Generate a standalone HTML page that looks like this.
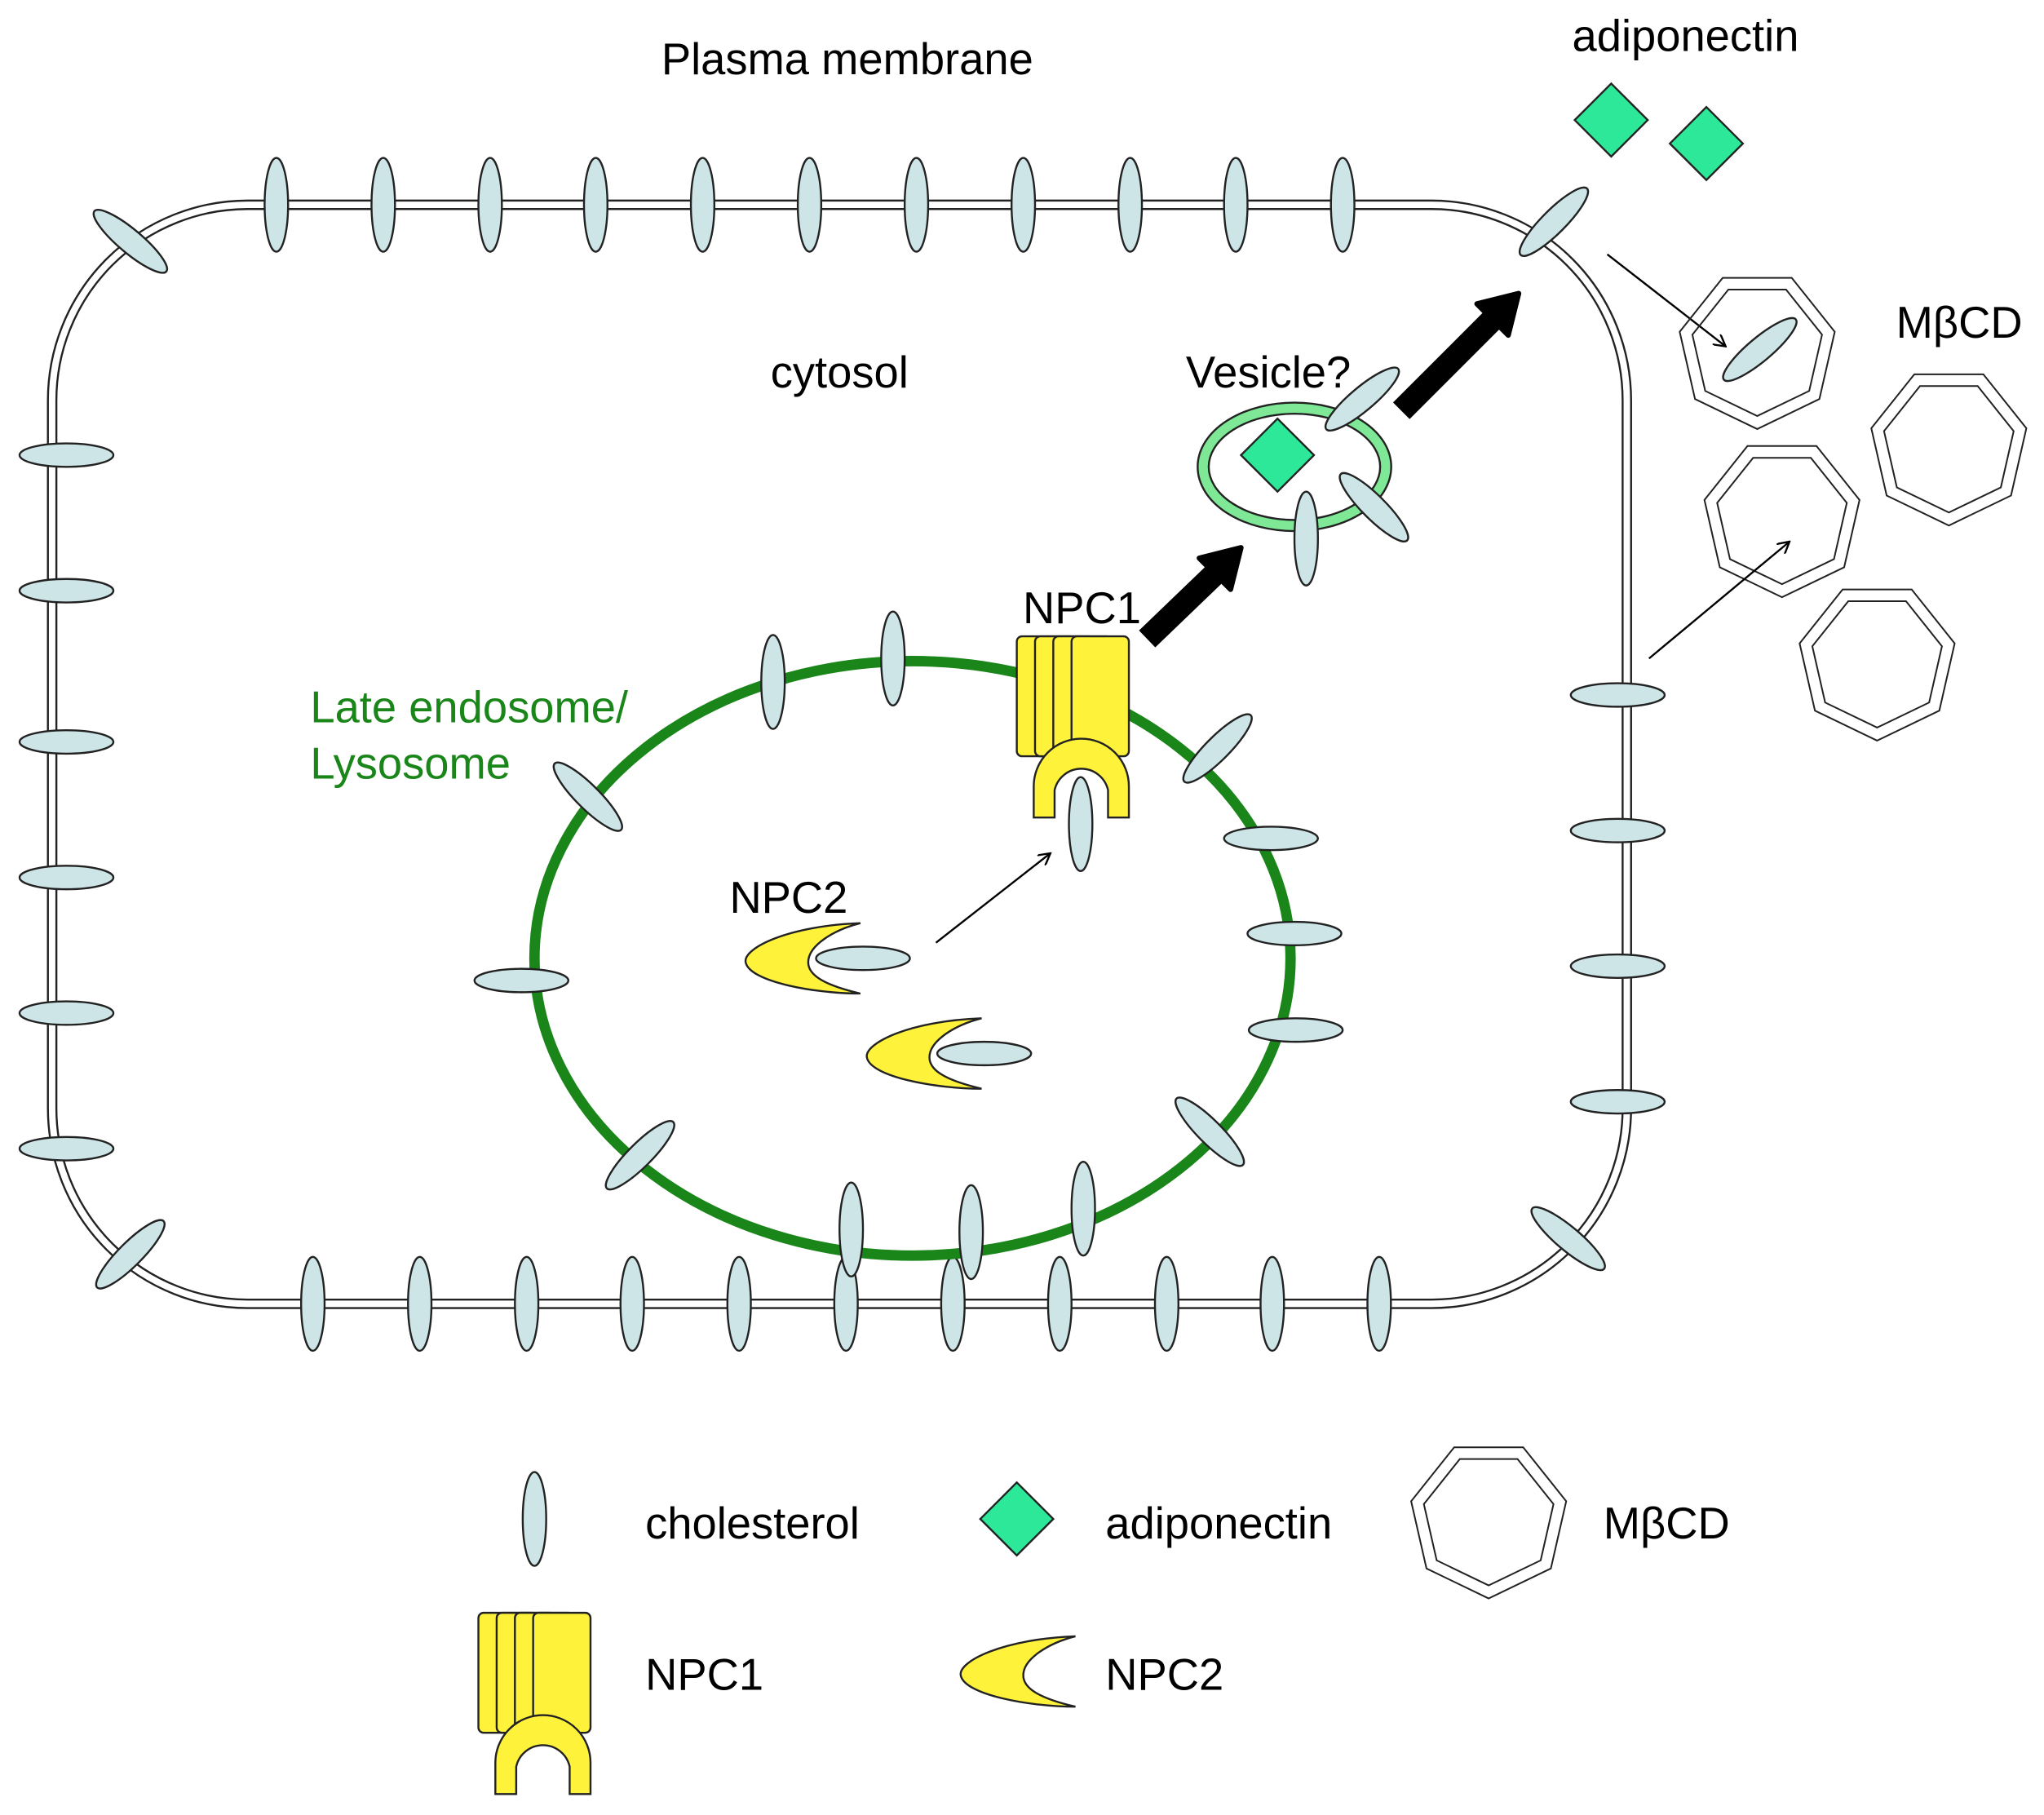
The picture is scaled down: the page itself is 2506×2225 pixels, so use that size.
<!DOCTYPE html>
<html><head><meta charset="utf-8"><style>
html,body{margin:0;padding:0;background:#fff}
svg{display:block}
text{font-family:"Liberation Sans",sans-serif;font-size:34px;fill:#000}
</style></head><body>
<svg width="2506" height="2225" viewBox="0 0 1568 1392" xmlns="http://www.w3.org/2000/svg">
<defs>
<ellipse id="cv" cx="0" cy="0" rx="9" ry="36" fill="#cde5e7" stroke="#222" stroke-width="1.5"/>
<polygon id="hep" points="0,1 -0.782,0.623 -0.975,-0.223 -0.434,-0.901 0.434,-0.901 0.975,-0.223 0.782,0.623" fill="none" stroke="#222" stroke-width="2" vector-effect="non-scaling-stroke"/>
<g id="mcd"><use href="#hep" transform="scale(61)"/><use href="#hep" transform="scale(51)"/></g>
<path id="dia" d="M0,-28 L28,0 L0,28 L-28,0 Z" fill="#2ee89a" stroke="#222" stroke-width="1.5"/>
<path id="cres" d="M45,-27 C-10,-25 -45,-8 -43,3 C-40,18 10,27 45,27 C15,20 5,12 5,3 C5,-10 25,-22 45,-27 Z" fill="#fff23a" stroke="#222" stroke-width="1.5"/>
<g id="npc1">
<rect x="0" y="0" width="45" height="92" rx="4" fill="#fff23a" stroke="#222" stroke-width="1.5"/>
<rect x="14" y="0" width="45" height="92" rx="4" fill="#fff23a" stroke="#222" stroke-width="1.5"/>
<rect x="28" y="0" width="45" height="92" rx="4" fill="#fff23a" stroke="#222" stroke-width="1.5"/>
<rect x="42" y="0" width="44" height="92" rx="4" fill="#fff23a" stroke="#222" stroke-width="1.5"/>
<path d="M13,139 L13,115 A36,36 0 0 1 86,115 L86,139 L70,139 L70,118 A21,21 0 0 0 29,118 L29,139 Z" fill="#fff23a" stroke="#222" stroke-width="1.5"/>
</g>
<marker id="ah" markerWidth="10" markerHeight="10" refX="8" refY="5" orient="auto" markerUnits="userSpaceOnUse"><path d="M0,0 L9,5 L0,10" fill="none" stroke="#000" stroke-width="1.5"/></marker>
</defs>

<rect x="40" y="157" width="1208" height="843" rx="150" fill="none" stroke="#222" stroke-width="8"/>
<rect x="40" y="157" width="1208" height="843" rx="150" fill="none" stroke="#fff" stroke-width="5"/>

<g>
<use href="#cv" x="212" y="157"/><use href="#cv" x="294" y="157"/><use href="#cv" x="376" y="157"/><use href="#cv" x="457" y="157"/><use href="#cv" x="539" y="157"/><use href="#cv" x="621" y="157"/><use href="#cv" x="703" y="157"/><use href="#cv" x="785" y="157"/><use href="#cv" x="867" y="157"/><use href="#cv" x="948" y="157"/><use href="#cv" x="1030" y="157"/>
<use href="#cv" x="240" y="1000"/><use href="#cv" x="322" y="1000"/><use href="#cv" x="404" y="1000"/><use href="#cv" x="485" y="1000"/><use href="#cv" x="567" y="1000"/><use href="#cv" x="649" y="1000"/><use href="#cv" x="731" y="1000"/><use href="#cv" x="813" y="1000"/><use href="#cv" x="895" y="1000"/><use href="#cv" x="976" y="1000"/><use href="#cv" x="1058" y="1000"/>
<use href="#cv" transform="translate(51,349) rotate(90)"/><use href="#cv" transform="translate(51,453) rotate(90)"/><use href="#cv" transform="translate(51,569) rotate(90)"/><use href="#cv" transform="translate(51,673) rotate(90)"/><use href="#cv" transform="translate(51,777) rotate(90)"/><use href="#cv" transform="translate(51,881) rotate(90)"/>
<use href="#cv" transform="translate(1241,533) rotate(90)"/><use href="#cv" transform="translate(1241,637) rotate(90)"/><use href="#cv" transform="translate(1241,741) rotate(90)"/><use href="#cv" transform="translate(1241,845) rotate(90)"/>
<use href="#cv" transform="translate(100,185) rotate(-50)"/><use href="#cv" transform="translate(100,962) rotate(45)"/><use href="#cv" transform="translate(1192,170) rotate(45)"/><use href="#cv" transform="translate(1203,950) rotate(-50)"/>
</g>

<ellipse cx="700" cy="735" rx="290" ry="228" fill="none" stroke="#1a861a" stroke-width="8"/>
<use href="#cv" x="593" y="523"/><use href="#cv" x="685" y="505"/>
<use href="#cv" transform="translate(451,611) rotate(-45)"/>
<use href="#cv" transform="translate(400,752) rotate(90)"/>
<use href="#cv" transform="translate(491,886) rotate(45)"/>
<use href="#cv" x="653" y="943"/><use href="#cv" x="745" y="945"/><use href="#cv" x="831" y="927"/>
<use href="#cv" transform="translate(928,868) rotate(-45)"/>
<use href="#cv" transform="translate(994,790) rotate(90)"/>
<use href="#cv" transform="translate(993,716) rotate(90)"/>
<use href="#cv" transform="translate(975,643) rotate(90)"/>
<use href="#cv" transform="translate(934,574) rotate(45)"/>

<use href="#npc1" x="780" y="488"/>
<use href="#cv" x="829" y="632"/>
<text x="830" y="478" text-anchor="middle">NPC1</text>
<text x="605" y="700" text-anchor="middle">NPC2</text>
<use href="#cres" x="615" y="735"/><use href="#cv" transform="translate(662,735) rotate(90)"/>
<use href="#cres" x="708" y="808"/><use href="#cv" transform="translate(755,808) rotate(90)"/>
<line x1="718" y1="723" x2="805" y2="655" stroke="#000" stroke-width="1.5" marker-end="url(#ah)"/>

<path d="M880,490 L932,440" stroke="#000" stroke-width="18"/>
<path d="M952,420 L920,428 L944,452 Z" fill="#000" stroke="#000" stroke-width="4" stroke-linejoin="round"/>
<path d="M1075,315 L1145,245" stroke="#000" stroke-width="18"/>
<path d="M1165,225 L1133,233 L1157,257 Z" fill="#000" stroke="#000" stroke-width="4" stroke-linejoin="round"/>

<ellipse cx="993" cy="358" rx="70" ry="45" fill="none" stroke="#222" stroke-width="10"/>
<ellipse cx="993" cy="358" rx="70" ry="45" fill="none" stroke="#7ee896" stroke-width="7"/>
<use href="#dia" x="980" y="349"/>
<use href="#cv" transform="translate(1045,306) rotate(50)"/>
<use href="#cv" transform="translate(1054,389) rotate(-45)"/>
<use href="#cv" x="1002" y="413"/>

<use href="#dia" x="1236" y="92"/><use href="#dia" x="1309" y="110"/>
<line x1="1233" y1="195" x2="1323" y2="265" stroke="#000" stroke-width="1.5" marker-end="url(#ah)"/>
<use href="#mcd" x="1348" y="268"/>
<use href="#cv" transform="translate(1350,268) rotate(50)"/>
<use href="#mcd" x="1495" y="342"/>
<use href="#mcd" x="1367" y="397"/>
<use href="#mcd" x="1440" y="507"/>
<line x1="1265" y1="505" x2="1372" y2="416" stroke="#000" stroke-width="1.5" marker-end="url(#ah)"/>

<text x="650" y="57" text-anchor="middle">Plasma membrane</text>
<text x="1293" y="39" text-anchor="middle">adiponectin</text>
<text x="644" y="297" text-anchor="middle">cytosol</text>
<text x="973" y="297" text-anchor="middle">Vesicle?</text>
<text x="1503" y="259" text-anchor="middle">MβCD</text>
<text x="238" y="554" style="fill:#1a861a">Late endosome/</text>
<text x="238" y="597" style="fill:#1a861a">Lysosome</text>

<use href="#cv" x="410" y="1165"/>
<text x="495" y="1180">cholesterol</text>
<use href="#dia" x="780" y="1165"/>
<text x="848" y="1180">adiponectin</text>
<use href="#mcd" x="1142" y="1165"/>
<text x="1230" y="1180">MβCD</text>
<use href="#npc1" x="367" y="1237"/>
<text x="495" y="1296">NPC1</text>
<use href="#cres" x="780" y="1282"/>
<text x="848" y="1296">NPC2</text>
</svg>
</body></html>
